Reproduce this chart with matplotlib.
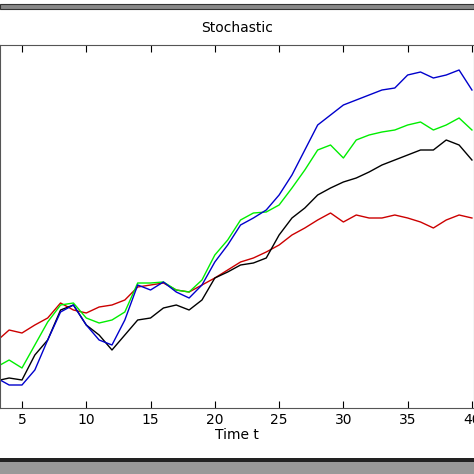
import matplotlib
matplotlib.use("Agg")
import matplotlib.pyplot as plt
from matplotlib.patches import Rectangle

t = [3.3, 4, 5, 6, 7, 8, 9, 10, 11, 12, 13, 14, 15, 16, 17, 18, 19, 20, 21, 22,
     23, 24, 25, 26, 27, 28, 29, 30, 31, 32, 33, 34, 35, 36, 37, 38, 39, 40]
blue = [380, 385, 385, 370, 340, 312, 305, 325, 340, 345, 320, 285, 290, 282, 292, 298, 285, 262, 245, 225,
        218, 210, 195, 175, 150, 125, 115, 105, 100, 95, 90, 88, 75, 72, 78, 75, 70, 90]
green = [365, 360, 368, 345, 322, 305, 303, 318, 323, 320, 312, 283, 283, 282, 290, 292, 280, 255, 240, 220,
         213, 212, 205, 188, 170, 150, 145, 158, 140, 135, 132, 130, 125, 122, 130, 125, 118, 130]
black = [380, 378, 380, 355, 340, 310, 305, 325, 335, 350, 335, 320, 318, 308, 305, 310, 300, 278, 272, 265,
         263, 258, 235, 218, 208, 195, 188, 182, 178, 172, 165, 160, 155, 150, 150, 140, 145, 160]
red = [338, 330, 333, 325, 318, 303, 310, 313, 307, 305, 300, 287, 285, 283, 290, 292, 285, 278, 270, 262,
       258, 252, 245, 235, 228, 220, 213, 222, 215, 218, 218, 215, 218, 222, 228, 220, 215, 218]
xticks = [5, 10, 15, 20, 25, 30, 35, 40]

W = 474
fig = plt.figure(figsize=(4.74, 4.74), dpi=100)
ax = fig.add_axes([0, (W - 408) / W, 1.0, (408 - 45) / W])
for y, c in [(red, "#cc0000"), (black, "black"), (green, "#00ee00"), (blue, "#0000cc")]:
    ax.plot(t, y, color=c, lw=1.0)
ax.set_xlim(3.29, 40.16)
ax.set_ylim(408, 45)
ax.set_xticks(xticks)
ax.set_yticks([])
ax.tick_params(axis="x", direction="in", length=5, labelsize=10, top=True)
ax.set_xlabel("Time t", fontsize=10, labelpad=1)
for s in ax.spines.values():
    s.set_color("#555555")
fig.text(0.5, 1 - 28 / W, "Stochastic", ha="center", va="center", fontsize=10)
fig.add_artist(Rectangle((0, 1 - 9 / W), 1, 5 / W, transform=fig.transFigure,
                         facecolor="#888888", edgecolor="#333333", lw=0.8))
fig.add_artist(Rectangle((0, 0), 1, 16 / W, transform=fig.transFigure,
                         facecolor="#999999", edgecolor="none"))
fig.add_artist(Rectangle((0, 12 / W), 1, 4 / W, transform=fig.transFigure,
                         facecolor="#222222", edgecolor="none"))
fig.savefig("out.png", dpi=100)
